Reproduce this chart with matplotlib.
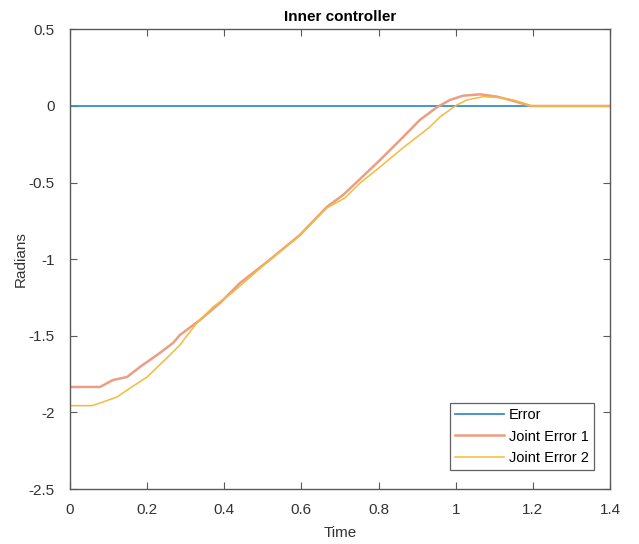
import matplotlib
matplotlib.use("Agg")
import matplotlib.pyplot as plt

plt.rcParams['font.family'] = ['Liberation Sans', 'DejaVu Sans']
plt.rcParams['axes.unicode_minus'] = False

# Reference error (always zero)
t_err = [0.0, 1.4]
err = [0.0, 0.0]

# Joint error 1
t_j1 = [0.0, 0.078, 0.111, 0.148, 0.181, 0.233, 0.267, 0.285, 0.337, 0.389,
        0.441, 0.511, 0.596, 0.666, 0.708, 0.744, 0.804, 0.856, 0.907, 0.952,
        0.985, 1.019, 1.063, 1.107, 1.141, 1.167, 1.193, 1.4]
j1 = [-1.834, -1.834, -1.789, -1.769, -1.704, -1.612, -1.547, -1.495, -1.397, -1.286,
      -1.155, -1.018, -0.842, -0.659, -0.581, -0.496, -0.352, -0.222, -0.091, -0.007,
      0.039, 0.067, 0.076, 0.061, 0.039, 0.020, 0.0, 0.0]

# Joint error 2
t_j2 = [0.0, 0.057, 0.086, 0.122, 0.156, 0.200, 0.251, 0.285, 0.329, 0.371,
        0.423, 0.511, 0.596, 0.666, 0.713, 0.752, 0.804, 0.863, 0.933, 0.959,
        1.003, 1.029, 1.071, 1.115, 1.149, 1.175, 1.198, 1.4]
j2 = [-1.956, -1.956, -1.932, -1.899, -1.841, -1.769, -1.645, -1.560, -1.416, -1.312,
      -1.214, -1.020, -0.845, -0.665, -0.600, -0.503, -0.398, -0.274, -0.137, -0.072,
      0.007, 0.039, 0.061, 0.054, 0.039, 0.020, 0.0, 0.0]

x_ticks = [0, 0.2, 0.4, 0.6, 0.8, 1, 1.2, 1.4]
x_labels = ['0', '0.2', '0.4', '0.6', '0.8', '1', '1.2', '1.4']
y_ticks = [-2.5, -2, -1.5, -1, -0.5, 0, 0.5]
y_labels = ['-2.5', '-2', '-1.5', '-1', '-0.5', '0', '0.5']

fig = plt.figure(figsize=(6.39, 5.44), dpi=100)
ax = fig.add_axes([0.1095, 0.1011, 0.8451, 0.8449])

ax.plot(t_err, err, color='#3A8CCB', lw=1.3, label='Error')
ax.plot(t_j1, j1, color='#EB9E84', lw=1.8, label='Joint Error 1')
ax.plot(t_j2, j2, color='#F5BA3A', lw=1.1, label='Joint Error 2')

ax.set_xlim(0, 1.4)
ax.set_ylim(-2.5, 0.5)
ax.set_xticks(x_ticks)
ax.set_xticklabels(x_labels)
ax.set_yticks(y_ticks)
ax.set_yticklabels(y_labels)

spine_col = '#5a5a5a'
for s in ax.spines.values():
    s.set_color(spine_col)
    s.set_linewidth(1.0)
ax.tick_params(direction='in', length=5, width=0.8, colors=spine_col,
               labelcolor='#333333', labelsize=11, top=True, right=True)
ax.tick_params(axis='x', pad=10)
ax.tick_params(axis='y', pad=11)

ax.set_title('Inner controller', fontsize=11, fontweight='bold', pad=6)
ax.set_xlabel('Time', fontsize=11, color='#333333')
ax.set_ylabel('Radians', fontsize=11, color='#333333')
ax.xaxis.set_label_coords(0.5, -0.096)
ax.xaxis.label.set_va('center')
ax.yaxis.set_label_coords(-0.0907, 0.5)
ax.yaxis.label.set_va('center')

leg = ax.legend(loc='lower right', bbox_to_anchor=(0.970, 0.0415), fontsize=10.5,
                frameon=True, fancybox=False, handlelength=3.4, handletextpad=0.3,
                borderpad=0.35, labelspacing=0.5, borderaxespad=0)
leg.get_frame().set_edgecolor('#3a3a3a')
leg.get_frame().set_linewidth(0.9)

fig.savefig('out.png', dpi=100)
